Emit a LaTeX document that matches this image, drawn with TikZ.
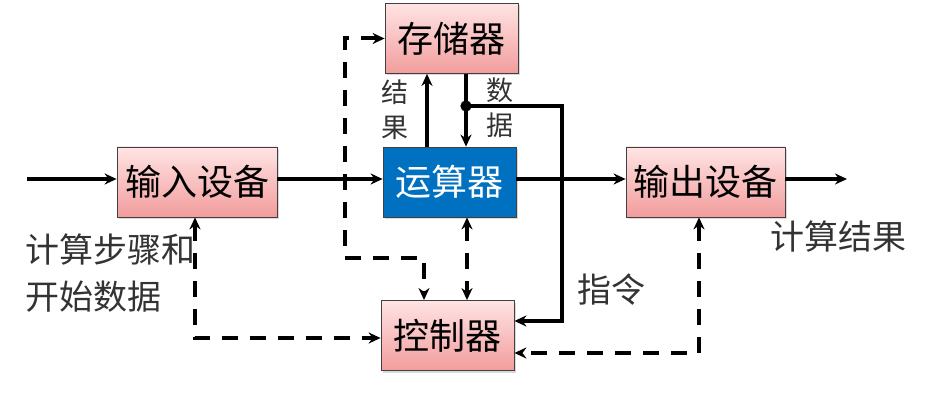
\documentclass[tikz,border=0pt]{standalone}
\usepackage{fontspec}
\setmainfont{Noto Sans CJK SC}
\usetikzlibrary{arrows.meta,calc,shadows}
\definecolor{pinktop}{RGB}{255,228,228}
\definecolor{pinkbot}{RGB}{242,156,156}
\definecolor{alublue}{RGB}{0,112,192}

\begin{document}
\begin{tikzpicture}[x=1pt,y=-1pt]
  \useasboundingbox (0,0) rectangle (931,403);
  \begin{scope}[
    every node/.style={
      draw=black!75,
      line width=0.8pt,
      inner sep=0pt,
      minimum height=70pt,
      font=\fontsize{36}{40}\selectfont,
      drop shadow={shadow xshift=2pt,shadow yshift=-2pt,opacity=0.3},
    },
    pinkbox/.style={top color=pinktop,bottom color=pinkbot},
    ]
    \node[pinkbox,minimum width=133pt] (mem) at (451.5,38.5) {存储器};
    \node[fill=alublue,text=white,minimum width=133pt] (alu) at (449.5,182) {运算器};
    \node[pinkbox,minimum width=133pt] (ctl) at (447.5,335.5) {控制器};
    \node[pinkbox,minimum width=160pt] (in) at (197,182) {输入设备};
    \node[pinkbox,minimum width=159pt] (out) at (705.5,182) {输出设备};
  \end{scope}
  \begin{scope}[every node/.style={text=black!80,font=\fontsize{34}{47}\selectfont}]
    \node[align=left,anchor=west] (steps) at (22,273) {计算步骤和\\开始数据};
    \node (result) at (838,237) {计算结果};
    \node (instr) at (611,290) {指令};
    \node[align=center,font=\fontsize{27}{35}\selectfont] (reslbl) at (395,110) {结\\果};
    \node[align=center,font=\fontsize{27}{35}\selectfont] (datlbl) at (500,108) {数\\据};
  \end{scope}
  % solid data paths
  \begin{scope}[every path/.style={draw,line width=4pt,>={Stealth[length=12pt,width=11pt]}}]
    \coordinate (src) at (27,179);
    \coordinate (sink) at (847,179);
    \coordinate (tap) at (466,106);
    \coordinate (res) at (427,0);
    \coordinate (bus) at (562,321);
    \path[->] (src) -- (src -| in.west);
    \path[->] (in.east |- src) -- (alu.west |- src);
    \path[->] (alu.east |- src) -- (out.west |- src);
    \path[->] (out.east |- src) -- (sink);
    \path[->] (res |- alu.north) -- (res |- mem.south);
    \path[->] (tap |- mem.south) -- (tap |- alu.north);
    \path[->] (tap) -| (bus) -- (bus -| ctl.east);
    \fill (tap) circle (3.5pt);
  \end{scope}
  % dashed control paths
  \begin{scope}[every path/.style={draw,line width=4pt,dash pattern=on 16pt off 12pt,>={Stealth[length=12pt,width=11pt]}}]
    \coordinate (loop) at (345,258);
    \coordinate (cup) at (424,300);
    \coordinate (cmid) at (467,0);
    \coordinate (mid) at (195,338);
    \coordinate (low) at (699,353);
    \path[<->] (mem.west) -| (loop) -| (cup);
    \path[<->] (cmid |- alu.south) -- (cmid |- ctl.north);
    \path[<->] (in.south -| mid) |- (ctl.west |- mid);
    \path[<->] (out.south -| low) |- (ctl.east |- low);
  \end{scope}
\end{tikzpicture}
\end{document}
